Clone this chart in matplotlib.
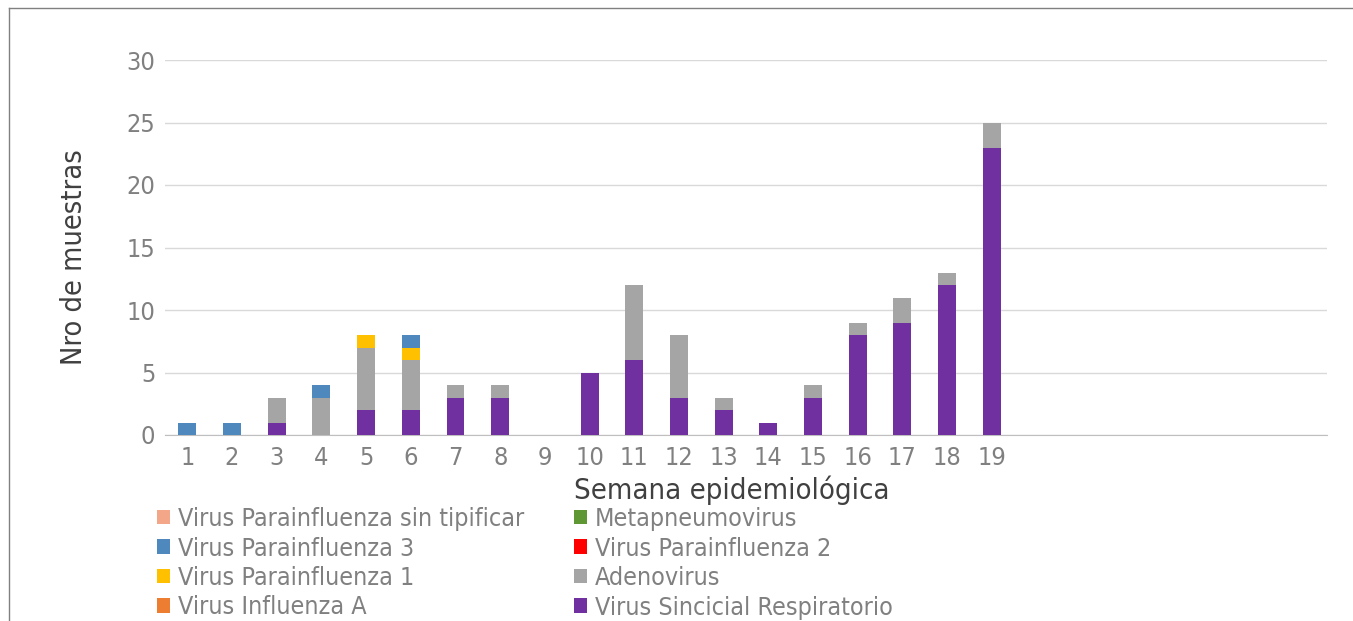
import matplotlib
matplotlib.use("Agg")
import matplotlib.pyplot as plt
from matplotlib import font_manager
import numpy as np

weeks = ["1","2","3","4","5","6","7","8","9","10","11","12","13","14","15","16","17","18","19","","","","","","",""]
rsv   = [0,0,1,0,2,2,3,3,0,5,6,3,2,1,3,8,9,12,23,0,0,0,0,0,0,0]
flua  = [0]*26
adeno = [0,0,2,3,5,4,1,1,0,0,6,5,1,0,1,1,2,1,2,0,0,0,0,0,0,0]
pi1   = [0,0,0,0,1,1,0,0,0,0,0,0,0,0,0,0,0,0,0,0,0,0,0,0,0,0]
pi2   = [0]*26
pi3   = [1,1,0,1,0,1,0,0,0,0,0,0,0,0,0,0,0,0,0,0,0,0,0,0,0,0]
meta  = [0]*26
pist  = [0]*26

series = [
    ("Virus Sincicial Respiratorio", rsv, "#7030A0"),
    ("Virus Influenza A", flua, "#ED7D31"),
    ("Adenovirus", adeno, "#A5A5A5"),
    ("Virus Parainfluenza 1", pi1, "#FFC000"),
    ("Virus Parainfluenza 2", pi2, "#FF0000"),
    ("Virus Parainfluenza 3", pi3, "#4F88BC"),
    ("Metapneumovirus", meta, "#5F9735"),
    ("Virus Parainfluenza sin tipificar", pist, "#F4A788"),
]

# use condensed DejaVu (approximates vertically stretched text) if present
has_cond = any(f.name == "DejaVu Sans" and str(f.stretch) in ("condensed", "semi-condensed", "600", "500")
               and f.stretch not in ("normal", 500)
               for f in font_manager.fontManager.ttflist)
if has_cond:
    stretch = "condensed"
    k = 1 / 0.9
else:
    stretch = "normal"
    k = 1.0
plt.rcParams["font.stretch"] = stretch

W, H = 1353, 621
fig = plt.figure(figsize=(W/100, H/100), dpi=100)
ax = fig.add_axes([165/W, 1-435/H, (1327-165)/W, (435-60)/H])

x = np.arange(len(weeks))
bottom = np.zeros(len(weeks))
handles = {}
for name, vals, col in series:
    v = np.array(vals, dtype=float)
    b = ax.bar(x, v, 0.4, bottom=bottom, color=col, label=name, zorder=3)
    handles[name] = b
    bottom += v

ax.set_xlim(-0.5, len(weeks)-0.5)
ax.set_ylim(0, 30)
ax.set_yticks(np.arange(0, 31, 5))
ax.set_xticks(x)
ax.set_xticklabels(weeks)
ax.grid(axis="y", color="#D9D9D9", linewidth=1, zorder=0)
for s in ["top", "right", "left"]:
    ax.spines[s].set_visible(False)
ax.spines["bottom"].set_color("#BFBFBF")
ax.tick_params(axis="both", length=0, labelsize=16.4*k, colors="#808080")
ax.tick_params(axis="y", pad=7)
ax.tick_params(axis="x", pad=8)
ax.set_xlabel("Semana epidemiológica", fontsize=18.9*k, color="#404040", labelpad=4)
ax.xaxis.label.set_x((731.5-165)/1162)
ax.set_ylabel("Nro de muestras", fontsize=18.7*k, color="#404040", labelpad=28)
ax.yaxis.label.set_y((435-257)/375)

order = ["Virus Parainfluenza sin tipificar", "Virus Parainfluenza 3", "Virus Parainfluenza 1", "Virus Influenza A",
         "Metapneumovirus", "Virus Parainfluenza 2", "Adenovirus", "Virus Sincicial Respiratorio"]
leg = fig.legend([handles[n] for n in order], order, ncol=2, loc="upper left",
                 bbox_to_anchor=(157/W, 1-507/H), frameon=False, fontsize=16.2*k,
                 handlelength=0.52, handleheight=0.52, handletextpad=0.3,
                 columnspacing=2.02, labelspacing=0.22, borderpad=0, borderaxespad=0)
for t in leg.get_texts():
    t.set_color("#808080")

fig.add_artist(plt.Line2D([9/W, 1], [1-8/H, 1-8/H], transform=fig.transFigure, color="#808080", linewidth=1))
fig.add_artist(plt.Line2D([9/W, 9/W], [0, 1-8/H], transform=fig.transFigure, color="#808080", linewidth=1))

fig.savefig("out.png", dpi=100)
